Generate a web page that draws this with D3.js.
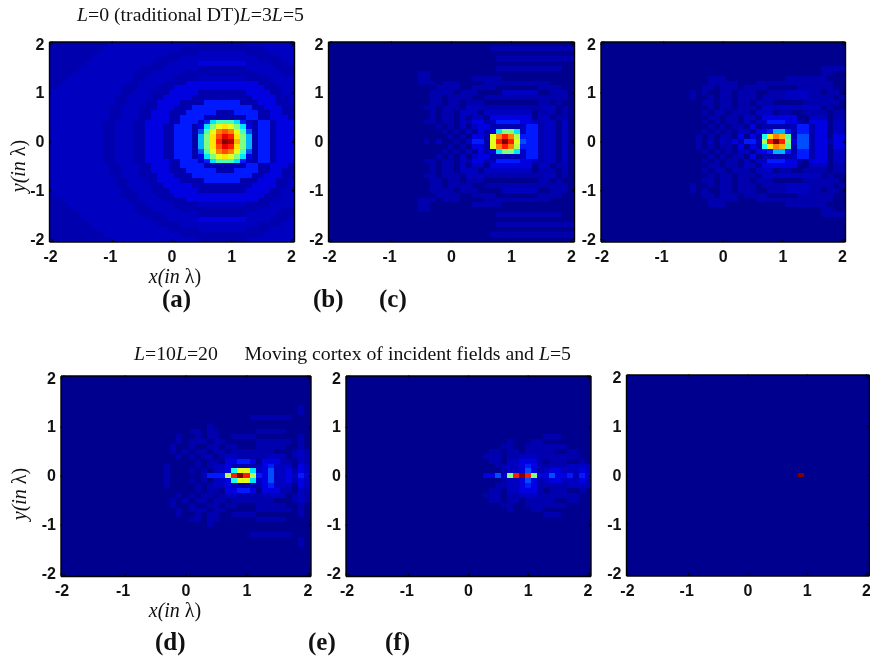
<!DOCTYPE html>
<meta charset="utf-8">
<style>
	body { margin: 0; background: #fff; }
	svg { display: block; filter: blur(0.5px); }
	.tick text { font: bold 16px "Liberation Sans", sans-serif; fill: #111; }
	.domain, .tick line { stroke: #000; stroke-width: 1.4px; }
	.cap { font: 19.8px "Liberation Serif", serif; fill: #111; }
	.axlabel { font: 20px "Liberation Serif", serif; fill: #111; }
	.name { font: bold 25px "Liberation Serif", serif; fill: #111; }
	rect { shape-rendering: crispEdges; }
</style>
<svg width="870" height="662"></svg>
<script src="https://cdnjs.cloudflare.com/ajax/libs/d3/7.8.5/d3.min.js"></script>
<script>

// field rows, top (y=2) to bottom (y=-2), one char per cell, index into levels
var levels = [0, .035, .055, .09, .15, .2, .3, .35, .4, .45, .5, .55, .6, .65, .7, .75, .8, .85, .9, .95, 1];
var blank = "0000000000 0000000000 0000000000 0000000000 0";

var fieldA = [
	"1111111111 2222222222 2222211111 1112222222 2",
	"1111111112 2222222222 2211111111 1111112222 2",
	"1111111122 2222222222 1111122222 2221111222 2",
	"1111111222 2222222211 1122222222 2222211112 2",
	"1111112222 2222222111 2222233333 3332222111 2",
	"1111122222 2222211112 2222211111 1112222211 1",
	"1111222222 2222111222 2211111111 1111122221 1",
	"1112222222 2222112222 2111122222 2221111222 2",
	"1122222222 2221122221 1113333333 3333311122 2",
	"1222222222 2211122211 1333333333 3333331112 2",
	"2222222222 2211222111 3333311111 1113333112 2",
	"2222222222 2112222113 3333111111 1111333311 2",
	"2222222222 2112221133 3311114444 4411133311 2",
	"2222222222 1122211133 3111444444 4444113331 1",
	"2222222222 1122211333 1114444411 1444411331 1",
	"2222222222 1122211333 1144441111 1114411333 1",
	"2222222221 1222113333 1144424799 9742144133 3",
	"2222222221 1222113331 1444137acd ca73144133 3",
	"2222222221 1222113331 1444159cfg fc95144133 3",
	"2222222221 1222113331 144416adgi hda6144133 3",
	"2222222221 1222113331 144416adhk jea6144133 3",
	"2222222221 1222113331 144416adgi hda6144133 3",
	"2222222221 1222113331 1444159cfg fc95144133 3",
	"2222222221 1222113331 1444137acd ca73144133 3",
	"2222222221 1222113333 1144424799 9742144133 3",
	"2222222222 1122211333 1144441111 1114411333 1",
	"2222222222 1122211333 1114444411 1444411331 1",
	"2222222222 1122211133 3111444444 4444113331 1",
	"2222222222 2112221133 3311114444 4411133311 2",
	"2222222222 2112222113 3333111111 1111333311 2",
	"2222222222 2211222111 3333311111 1113333112 2",
	"1222222222 2211122211 1333333333 3333331112 2",
	"1122222222 2221122221 1113333333 3333311122 2",
	"1112222222 2222112222 2111122222 2221111222 2",
	"1111222222 2222111222 2211111111 1111122221 1",
	"1111122222 2222211112 2222211111 1112222211 1",
	"1111112222 2222222111 2222233333 3332222111 2",
	"1111111222 2222222211 1122222222 2222211112 2",
	"1111111122 2222222222 1111122222 2221111222 2",
	"1111111112 2222222222 2211111111 1111112222 2",
	"1111111111 2222222222 2222211111 1112222222 2"
];

var fieldB = [
	blank,
	"0000000000 0000000000 0000000111 1111111111 1",
	blank,
	"0000000000 0000000000 0000000011 1111111111 1",
	blank,
	"0000000000 0000000000 0000000011 1111111110 0",
	"0000000000 0000011000 0000000000 0000000000 0",
	"0000000000 0000011000 0000111110 0000000000 0",
	"0000000000 0000011101 1100001111 1111111000 0",
	"0000000000 0000000011 1100111100 0000011110 0",
	"0000000000 0000000111 1011100002 2222200111 0",
	"0000000000 0000000110 1111001111 1111111111 0",
	"0000000000 0000000110 1101110000 0000011010 0",
	"0000000000 0000001101 1102221111 1111112201 0",
	"0000000000 0000000101 1022202222 2222011101 0",
	"0000000000 0000000101 1020220333 3333022011 0",
	"0000000000 0000001101 1021331244 4433212202 0",
	"0000000000 0000000010 1020233111 1124412202 0",
	"0000000000 0000000001 010203137a a724412202 0",
	"0000000000 0000000000 1010331cfh fb44412202 0",
	"0000000000 0000001020 0102441chk hc54412202 0",
	"0000000000 0000000000 1010331cfh fb44412202 0",
	"0000000000 0000000001 010203137a a724412202 0",
	"0000000000 0000000010 1020233111 1124412202 0",
	"0000000000 0000001101 1021331244 4433212202 0",
	"0000000000 0000000101 1020220333 3333022011 0",
	"0000000000 0000000101 1022202222 2222011101 0",
	"0000000000 0000001101 1102221111 1111112201 0",
	"0000000000 0000000110 1101110000 0000011010 0",
	"0000000000 0000000110 1111001111 1111111111 0",
	"0000000000 0000000111 1011100002 2222200111 0",
	"0000000000 0000000011 1100111100 0000011110 0",
	"0000000000 0000011101 1100001111 1111111000 0",
	"0000000000 0000011000 0000111110 0000000000 0",
	"0000000000 0000011000 0000000000 0000000000 0",
	"0000000000 0000000000 0000000011 1111111110 0",
	blank,
	"0000000000 0000000000 0000000011 1111111111 1",
	blank,
	"0000000000 0000000000 0000000111 1111111111 1",
	blank
];

var fieldC = [
	blank, blank, blank, blank, blank,
	"0000000000 0000000000 0000000000 0000000111 1",
	"0000000000 0000000000 0000000000 0000000110 0",
	"0000000000 0000000011 1000000000 0111111100 0",
	"0000000000 0000000011 1110001111 1111111110 0",
	"0000000000 0000000110 1110111100 0001111110 0",
	"0000000000 0000010100 1101110011 1222211011 0",
	"0000000000 0000010010 1101110111 1222211110 1",
	"0000000000 0000000110 1101101110 0000111111 0",
	"0000000000 0000000010 1101110222 2222222010 0",
	"0000000000 0000000101 1011102220 1100111101 1",
	"0000000000 0000000011 0110220333 3330022201 1",
	"0000000000 0000000101 0110202244 4331033302 2",
	"0000000000 0000000010 1011030111 1124413302 2",
	"0000000000 0000000101 0102203346 6414413302 2",
	"0000000000 0000001010 11030318df e915513303 3",
	"0000000000 0000001020 2131442bhk ha35513313 3",
	"0000000000 0000001010 11030318df e915513303 3",
	"0000000000 0000000101 0102203346 6414413302 2",
	"0000000000 0000000010 1011030111 1124413302 2",
	"0000000000 0000000101 0110202244 4331033302 2",
	"0000000000 0000000011 0110220333 3330022201 1",
	"0000000000 0000000101 1011102220 1100111101 1",
	"0000000000 0000000010 1101110222 2222222010 0",
	"0000000000 0000000110 1101101110 0000111111 0",
	"0000000000 0000010010 1101110111 1222211110 1",
	"0000000000 0000010100 1101110011 1222211011 0",
	"0000000000 0000000110 1110111100 0001111110 0",
	"0000000000 0000000011 1110001111 1111111110 0",
	"0000000000 0000000011 1000000000 0111111100 0",
	"0000000000 0000000000 0000000000 0000000110 0",
	"0000000000 0000000000 0000000000 0000000111 1",
	blank, blank, blank, blank, blank
];

var fieldD = [
	blank, blank, blank, blank, blank, blank,
	"0000000000 0000000000 0000000000 0000000001 0",
	"0000000000 0000000000 0000000000 0000000001 0",
	"0000000000 0000000000 0000000000 0111111100 0",
	blank,
	"0000000000 0000000000 0000100000 0000000000 0",
	"0000000000 0000000000 0110110000 0011111000 0",
	"0000000000 0000000001 0010110011 1100000001 0",
	"0000000000 0000000001 0111011000 0011111101 0",
	"0000000000 0000000010 0100110110 0011111001 0",
	"0000000000 0000000010 1011011011 1111100012 1",
	"0000000000 0000000001 0101101221 1111222012 1",
	"0000000000 0000000000 0010110334 4303331102 1",
	"0000000000 0000000100 0010122311 1113422203 2",
	"0000000000 0000000100 010102238c c723522313 2",
	"0000000000 0000000100 0002444bhk hb43522324 3",
	"0000000000 0000000100 010102238c c723522313 2",
	"0000000000 0000000100 0010122311 1113422203 2",
	"0000000000 0000000000 0010110334 4303331102 1",
	"0000000000 0000000001 0101101221 1111222012 1",
	"0000000000 0000000010 1011011011 1111100012 1",
	"0000000000 0000000010 0100110110 0011111001 0",
	"0000000000 0000000001 0111011000 0011111101 0",
	"0000000000 0000000001 0010110011 1100000001 0",
	"0000000000 0000000000 0110110000 0011111000 0",
	"0000000000 0000000000 0000100000 0000000000 0",
	blank,
	"0000000000 0000000000 0000000000 0111111100 0",
	"0000000000 0000000000 0000000000 0000000001 0",
	"0000000000 0000000000 0000000000 0000000001 0",
	blank, blank, blank, blank, blank, blank
];

var fieldE = [
	blank, blank, blank, blank, blank, blank, blank, blank, blank, blank, blank, blank,
	"0000000000 0000000000 0000000000 0001110000 0",
	"0000000000 0000000000 0000000100 0110000000 0",
	"0000000000 0000000000 0000001100 1111111000 0",
	"0000000000 0000000000 0000110110 1111100110 0",
	"0000000000 0000000000 0001110112 2211111110 0",
	"0000000000 0000000000 0000110223 3310111001 0",
	"0000000000 0000000000 0000011223 4311111222 2",
	"0000000000 0000000000 0000001223 5312332223 2",
	"0000000000 0000000000 0003352ahk ha33533414 3",
	"0000000000 0000000000 0000001223 5312332223 2",
	"0000000000 0000000000 0000011223 4311111222 2",
	"0000000000 0000000000 0000110223 3310111001 0",
	"0000000000 0000000000 0001110112 2211111110 0",
	"0000000000 0000000000 0000110110 1111100110 0",
	"0000000000 0000000000 0000001100 1111111000 0",
	"0000000000 0000000000 0000000100 0110000000 0",
	"0000000000 0000000000 0000000000 0001110000 0",
	blank, blank, blank, blank, blank, blank, blank, blank, blank, blank, blank, blank
];

var fieldF = d3.range(41).map(function(r) {
	return r == 20 ? "0000000000 0000000000 000000000k 0000000000 0" : blank;
});

var panels = [
	{field: fieldA, x: 49, y: 41.5, w: 245, h: 200},
	{field: fieldB, x: 328, y: 41.5, w: 246, h: 200},
	{field: fieldC, x: 600.5, y: 41.5, w: 244.5, h: 200},
	{field: fieldD, x: 60.5, y: 375.5, w: 250, h: 200.5},
	{field: fieldE, x: 345.5, y: 375.5, w: 245, h: 200.5},
	{field: fieldF, x: 626, y: 374.5, w: 243, h: 201}
];

var tickVals = [-2, -1, 0, 1, 2];
var coords = d3.range(41).map(function(i) { return -2 + i * 0.1; });
var half = 0.05;

var names = [
	{t: "(a)", x: 162, y: 306.5},
	{t: "(b)", x: 313, y: 306.5},
	{t: "(c)", x: 379, y: 306.5},
	{t: "(d)", x: 155, y: 650},
	{t: "(e)", x: 308, y: 650},
	{t: "(f)", x: 385, y: 650}
];

var color = d3.scaleLinear()
	.domain([0, 0.125, 0.375, 0.625, 0.875, 1])
	.range(["#00008f", "#0000ff", "#00ffff", "#ffff00", "#ff0000", "#800000"]);

var svg = d3.select("svg");

function cellValues(field) {
	var out = [];
	field.forEach(function(row, r) {
		row.replace(/ /g, "").split("").forEach(function(c, i) {
			out.push({col: i, row: 40 - r, v: levels[parseInt(c, 21)]});
		});
	});
	return out;
}

panels.forEach(function(p) {
	var g = svg.append("g").attr("transform", "translate(" + p.x + "," + p.y + ")");
	var x = d3.scaleLinear().domain([-2 - half, 2 + half]).range([0, p.w]);
	var y = d3.scaleLinear().domain([-2 - half, 2 + half]).range([p.h, 0]);

	g.selectAll("rect").data(cellValues(p.field)).enter().append("rect")
		.attr("x", function(d) { return x(coords[d.col] - half); })
		.attr("y", function(d) { return y(coords[d.row] + half); })
		.attr("width", x(half) - x(-half))
		.attr("height", y(-half) - y(half))
		.attr("fill", function(d) { return color(d.v); });

	g.append("g").attr("transform", "translate(0," + p.h + ")")
		.call(d3.axisBottom(x).tickValues(tickVals).tickSize(-2).tickSizeOuter(0).tickPadding(9).tickFormat(String))
		.selectAll("text").attr("dx", function(d) { return d < 0 ? -2 : 0; });
	g.append("g")
		.call(d3.axisLeft(y).tickValues(tickVals).tickSize(-2).tickSizeOuter(0).tickPadding(4.5).tickFormat(String));
	g.append("g")
		.call(d3.axisTop(x).tickValues(tickVals).tickSize(-2).tickSizeOuter(0).tickFormat(""));
	g.append("g").attr("transform", "translate(" + p.w + ",0)")
		.call(d3.axisRight(y).tickValues(tickVals).tickSize(-2).tickSizeOuter(0).tickFormat(""));
});

// mixed italic / upright text
function rich(sel, parts) {
	parts.forEach(function(s) {
		sel.append("tspan").style("font-style", s[1] ? "italic" : "normal").text(s[0]);
	});
	return sel;
}

rich(svg.append("text").attr("class", "cap").attr("x", 77).attr("y", 20.5),
	[["L", 1], ["=0 (traditional DT)"], ["L", 1], ["=3"], ["L", 1], ["=5"]]);
rich(svg.append("text").attr("class", "cap").attr("x", 134).attr("y", 360),
	[["L", 1], ["=10"], ["L", 1], ["=20"]]);
rich(svg.append("text").attr("class", "cap").attr("x", 244.5).attr("y", 360),
	[["Moving cortex of incident fields and "], ["L", 1], ["=5"]]);

[283, 616.5].forEach(function(yy) {
	rich(svg.append("text").attr("class", "axlabel").attr("x", 175).attr("y", yy).attr("text-anchor", "middle"),
		[["x(in ", 1], ["λ)"]]);
});
[[25, 166], [26, 494]].forEach(function(a) {
	rich(svg.append("text").attr("class", "axlabel").attr("text-anchor", "middle")
		.attr("transform", "translate(" + a[0] + "," + a[1] + ") rotate(-90)"),
		[["y(in ", 1], ["λ)"]]);
});

svg.selectAll(".name").data(names).enter().append("text")
	.attr("class", "name")
	.attr("x", function(d) { return d.x; })
	.attr("y", function(d) { return d.y; })
	.text(function(d) { return d.t; });

</script>
